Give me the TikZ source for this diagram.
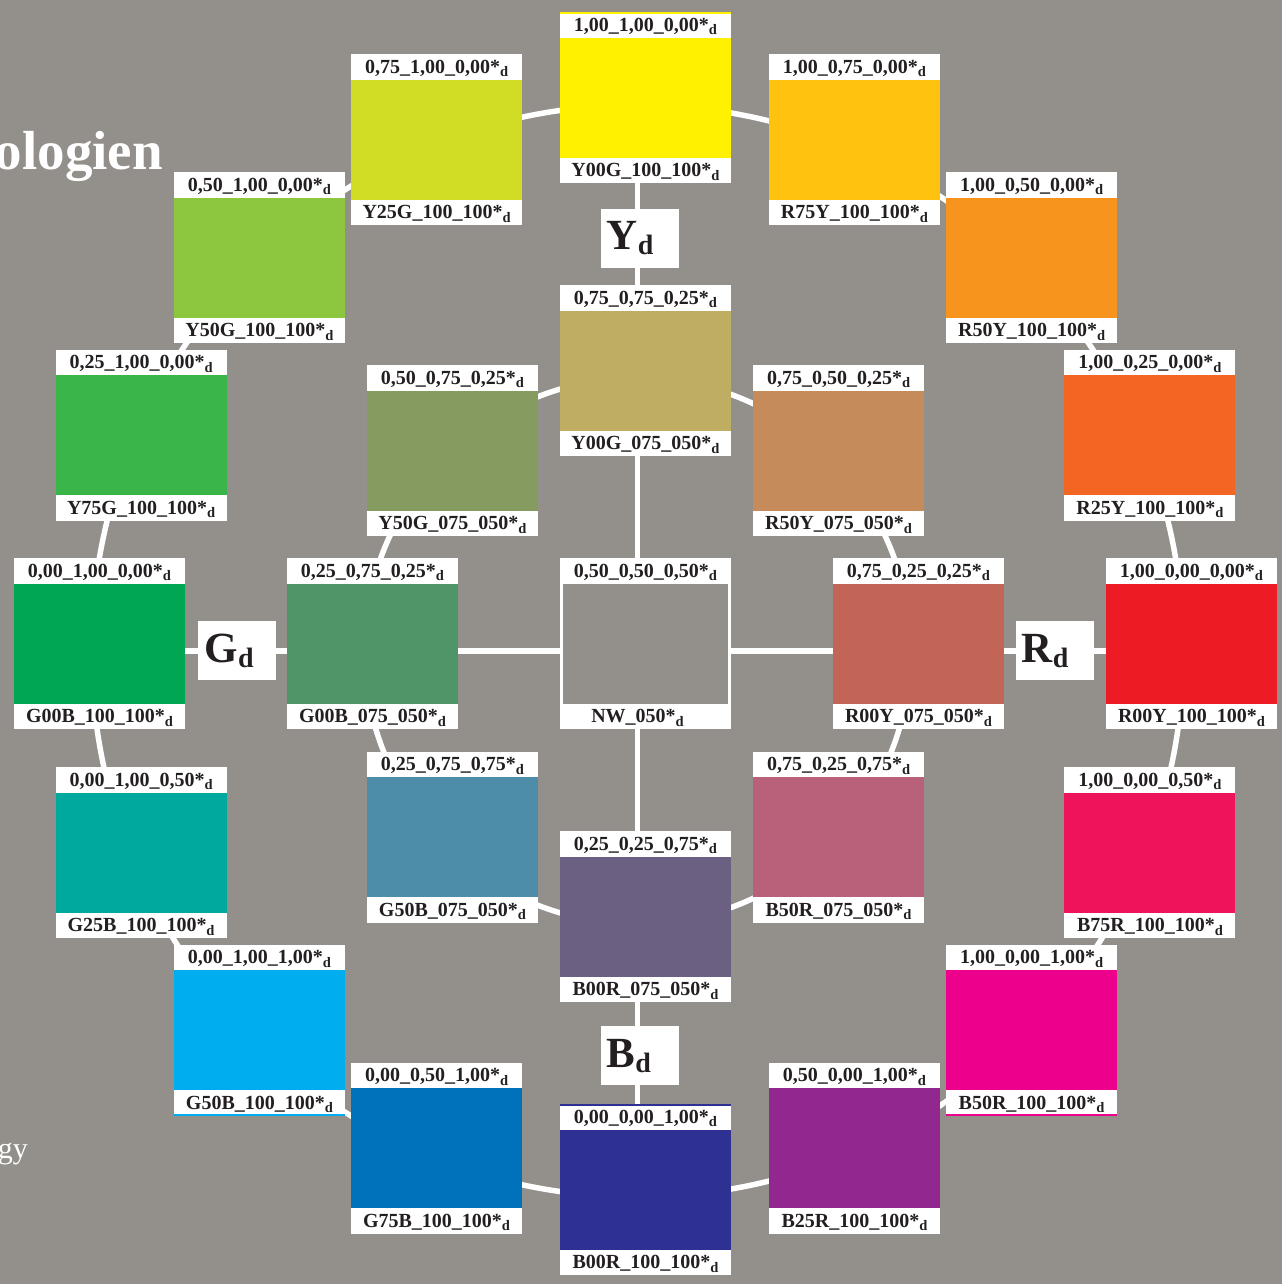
\documentclass[tikz,border=0pt]{standalone}
\usepackage{fontspec}
\setmainfont{Liberation Serif}
\usetikzlibrary{calc}
\definecolor{bg}{RGB}{147,143,139}
\definecolor{labtext}{RGB}{35,31,32}
\definecolor{cY00Gh}{HTML}{FFF100}
\definecolor{cR75Yh}{HTML}{FFC20E}
\definecolor{cR50Yh}{HTML}{F7941D}
\definecolor{cR25Yh}{HTML}{F26522}
\definecolor{cR00Yh}{HTML}{ED1C24}
\definecolor{cB75Rh}{HTML}{ED145B}
\definecolor{cB50Rh}{HTML}{EC008C}
\definecolor{cB25Rh}{HTML}{92278F}
\definecolor{cB00Rh}{HTML}{2E3192}
\definecolor{cG75Bh}{HTML}{0072BC}
\definecolor{cG50Bh}{HTML}{00AEEF}
\definecolor{cG25Bh}{HTML}{00A99D}
\definecolor{cG00Bh}{HTML}{00A651}
\definecolor{cY75Gh}{HTML}{39B54A}
\definecolor{cY50Gh}{HTML}{8DC63F}
\definecolor{cY25Gh}{HTML}{D1DC24}
\definecolor{cY00Gm}{HTML}{BFAE62}
\definecolor{cR50Ym}{HTML}{C68B5A}
\definecolor{cR00Ym}{HTML}{C26456}
\definecolor{cB50Rm}{HTML}{B9617B}
\definecolor{cB00Rm}{HTML}{6B6081}
\definecolor{cG50Bm}{HTML}{4D8DA9}
\definecolor{cG00Bm}{HTML}{509567}
\definecolor{cY50Gm}{HTML}{869B5F}
\tikzset{
  swbox/.style={fill=white, minimum width=171pt, minimum height=171pt, inner sep=0pt, outer sep=0pt},
  lab/.style={anchor=base, inner sep=0pt, text=labtext, font=\bfseries\fontsize{20}{20}\selectfont},
  axbox/.style={fill=white, minimum width=78pt, minimum height=59pt, inner sep=0pt, outer sep=0pt},
  axlab/.style={anchor=base west, inner sep=0pt, text=labtext, font=\bfseries\fontsize{43}{43}\selectfont},
  wline/.style={draw=white, line width=5.5pt},
}
\newcommand{\dsub}{\raisebox{-3.5pt}{\fontsize{14.5}{14.5}\selectfont d}}
\newcommand{\dsubbig}{\raisebox{-5pt}{\fontsize{28}{28}\selectfont d}}
% name, angle, radius, colour, top text, bottom text
\newcommand{\swatch}[6]{%
  \node[swbox] (#1) at ($(c)+(#2:#3pt)+(8pt,7pt)$) {};
  \fill[#4] ([yshift=-25.5pt]#1.north west) rectangle ([yshift=25.5pt]#1.south east);
  \node[lab] (#1-t) at ([yshift=-19pt]#1.north) {#5};
  \node[lab] (#1-b) at ([yshift=6.5pt]#1.south) {#6};
}
\newcommand{\axlabel}[4]{% name, position, letter, shift
  \node[axbox] (#1) at #2 {};
  \node[axlab] (#1-t) at ([xshift=#4pt,yshift=-41pt]#1.north west) {#3\dsubbig};
}
\begin{document}
\begin{tikzpicture}[x=1pt,y=1pt]
\fill[bg] (0,0) rectangle (1282,1284);
\useasboundingbox (0,0) rectangle (1282,1284);
\coordinate (c) at (637.5,633);
\node[anchor=base east, inner sep=0pt, text=white, font=\bfseries\fontsize{55}{55}\selectfont] (title) at (163,1114) {ologien};
\node[anchor=base east, inner sep=0pt, text=white, font=\fontsize{30}{30}\selectfont] (subtitle) at (28,125) {gy};
% connectors
\draw[wline] (c) circle[radius=546pt];
\draw[wline] (c) circle[radius=273pt];
% outer ring
\swatch{oY00G}{90}{546}{cY00Gh}{1,00\_1,00\_0,00*\dsub}{Y00G\_100\_100*\dsub}
\swatch{oR75Y}{67.5}{546}{cR75Yh}{1,00\_0,75\_0,00*\dsub}{R75Y\_100\_100*\dsub}
\swatch{oR50Y}{45}{546}{cR50Yh}{1,00\_0,50\_0,00*\dsub}{R50Y\_100\_100*\dsub}
\swatch{oR25Y}{22.5}{546}{cR25Yh}{1,00\_0,25\_0,00*\dsub}{R25Y\_100\_100*\dsub}
\swatch{oR00Y}{0}{546}{cR00Yh}{1,00\_0,00\_0,00*\dsub}{R00Y\_100\_100*\dsub}
\swatch{oB75R}{-22.5}{546}{cB75Rh}{1,00\_0,00\_0,50*\dsub}{B75R\_100\_100*\dsub}
\swatch{oB50R}{-45}{546}{cB50Rh}{1,00\_0,00\_1,00*\dsub}{B50R\_100\_100*\dsub}
\swatch{oB25R}{-67.5}{546}{cB25Rh}{0,50\_0,00\_1,00*\dsub}{B25R\_100\_100*\dsub}
\swatch{oB00R}{-90}{546}{cB00Rh}{0,00\_0,00\_1,00*\dsub}{B00R\_100\_100*\dsub}
\swatch{oG75B}{-112.5}{546}{cG75Bh}{0,00\_0,50\_1,00*\dsub}{G75B\_100\_100*\dsub}
\swatch{oG50B}{-135}{546}{cG50Bh}{0,00\_1,00\_1,00*\dsub}{G50B\_100\_100*\dsub}
\swatch{oG25B}{-157.5}{546}{cG25Bh}{0,00\_1,00\_0,50*\dsub}{G25B\_100\_100*\dsub}
\swatch{oG00B}{180}{546}{cG00Bh}{0,00\_1,00\_0,00*\dsub}{G00B\_100\_100*\dsub}
\swatch{oY75G}{157.5}{546}{cY75Gh}{0,25\_1,00\_0,00*\dsub}{Y75G\_100\_100*\dsub}
\swatch{oY50G}{135}{546}{cY50Gh}{0,50\_1,00\_0,00*\dsub}{Y50G\_100\_100*\dsub}
\swatch{oY25G}{112.5}{546}{cY25Gh}{0,75\_1,00\_0,00*\dsub}{Y25G\_100\_100*\dsub}
% axis lines
\draw[wline] (oY00G.south -| c) -- (oB00R.north -| c);
\draw[wline] (oG00B.east |- c) -- (oR00Y.west |- c);
% thin colour edges
\fill[cY00Gh] (oY00G.north west) rectangle ([yshift=-1.5pt]oY00G.north east);
\fill[cB00Rh] (oB00R.north west) rectangle ([yshift=-1.5pt]oB00R.north east);
\fill[cG50Bh] (oG50B.south west) rectangle ([yshift=2pt]oG50B.south east);
\fill[cB50Rh] (oB50R.south west) rectangle ([yshift=2pt]oB50R.south east);
% inner ring
\swatch{mY00G}{90}{273}{cY00Gm}{0,75\_0,75\_0,25*\dsub}{Y00G\_075\_050*\dsub}
\swatch{mR50Y}{45}{273}{cR50Ym}{0,75\_0,50\_0,25*\dsub}{R50Y\_075\_050*\dsub}
\swatch{mR00Y}{0}{273}{cR00Ym}{0,75\_0,25\_0,25*\dsub}{R00Y\_075\_050*\dsub}
\swatch{mB50R}{-45}{273}{cB50Rm}{0,75\_0,25\_0,75*\dsub}{B50R\_075\_050*\dsub}
\swatch{mB00R}{-90}{273}{cB00Rm}{0,25\_0,25\_0,75*\dsub}{B00R\_075\_050*\dsub}
\swatch{mG50B}{-135}{273}{cG50Bm}{0,25\_0,75\_0,75*\dsub}{G50B\_075\_050*\dsub}
\swatch{mG00B}{180}{273}{cG00Bm}{0,25\_0,75\_0,25*\dsub}{G00B\_075\_050*\dsub}
\swatch{mY50G}{135}{273}{cY50Gm}{0,50\_0,75\_0,25*\dsub}{Y50G\_075\_050*\dsub}
% centre
\node[swbox] (nw) at ($(c)+(8,7)$) {};
\fill[bg] ([xshift=3pt,yshift=-25.5pt]nw.north west) rectangle ([xshift=-3pt,yshift=25.5pt]nw.south east);
\node[lab] (nw-t) at ([yshift=-19pt]nw.north) {0,50\_0,50\_0,50*\dsub};
\node[lab] (nw-b) at ([xshift=-8pt,yshift=6.5pt]nw.south) {NW\_050*\dsub};
% axis labels
\axlabel{Yd}{(639.5,1045.5)}{Y}{6}
\axlabel{Gd}{(237,633)}{G}{6.5}
\axlabel{Rd}{(1054.5,633)}{R}{6}
\axlabel{Bd}{(639.5,228)}{B}{6}
\end{tikzpicture}
\end{document}
